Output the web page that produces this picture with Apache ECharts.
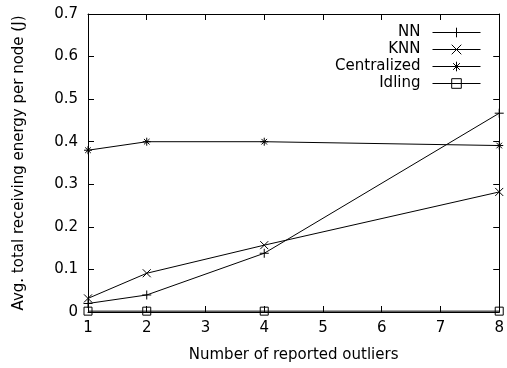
<!DOCTYPE html>
<html>
<head>
<meta charset="utf-8">
<script src="https://cdn.jsdelivr.net/npm/echarts@6/dist/echarts.min.js"></script>
<style>html,body{margin:0;padding:0;background:#fff}#c{width:507px;height:368px}</style>
</head>
<body>
<div id="c"></div>
<script>
const xValues = [1, 2, 4, 8];
const nnValues = [0.020, 0.040, 0.138, 0.467];
const knnValues = [0.032, 0.091, 0.157, 0.282];
const centralizedValues = [0.380, 0.400, 0.400, 0.391];
const idlingValues = [0.002, 0.002, 0.002, 0.002];
const seriesNames = ['NN', 'KNN', 'Centralized', 'Idling'];
const xTicks = [1, 2, 3, 4, 5, 6, 7, 8];
const yTicks = [0, 0.1, 0.2, 0.3, 0.4, 0.5, 0.6, 0.7];

const FONT = 'DejaVu Sans';
const symPlus = 'path://M5 0 L5 10 M0 5 L10 5';
const symCross = 'path://M0 0 L10 10 M10 0 L0 10';
const symStar = 'path://M5 0 L5 10 M0 5 L10 5 M1.5 1.5 L8.5 8.5 M8.5 1.5 L1.5 8.5';
const symSquare = 'path://M0 0 L10 0 L10 10 L0 10 Z';

function pairs(vals) { return xValues.map((x, i) => [x, vals[i]]); }

function mkSeries(name, vals, symbol, size) {
  return {
    name: name, type: 'line', data: pairs(vals),
    symbol: symbol, symbolSize: size, showSymbol: true,
    lineStyle: { color: '#000', width: 1 },
    itemStyle: { color: 'rgba(0,0,0,0)', borderColor: '#000', borderWidth: 1 },
    emphasis: { disabled: true },
    animation: false
  };
}

const axisCommon = {
  axisLine: { show: true, onZero: false, lineStyle: { color: '#000', width: 1 } },
  axisTick: { show: true, inside: true, length: 6, lineStyle: { color: '#000' } },
  splitLine: { show: false }
};

const chart = echarts.init(document.getElementById('c'));
chart.setOption({
  animation: false,
  backgroundColor: '#fff',
  grid: { left: 88, right: 6, top: 14, bottom: 56 },
  legend: {
    orient: 'vertical', right: 21, top: 19, align: 'right',
    itemWidth: 48, itemHeight: 12, itemGap: 0,
    lineStyle: { width: 1, color: '#000' },
    itemStyle: { borderWidth: 1, borderColor: '#000', color: 'rgba(0,0,0,0)' },
    textStyle: { fontFamily: FONT, fontSize: 15, color: '#000', lineHeight: 17, padding: [0, 7, 0, 0] },
    data: seriesNames
  },
  xAxis: [
    Object.assign({}, axisCommon, {
      type: 'value', min: 1, max: 8, interval: 1, position: 'bottom',
      axisLabel: { fontFamily: FONT, fontSize: 15, color: '#000', margin: 9, customValues: xTicks },
      name: 'Number of reported outliers', nameLocation: 'middle', nameGap: 36,
      nameTextStyle: { fontFamily: FONT, fontSize: 15, color: '#000' }
    }),
    Object.assign({}, axisCommon, {
      type: 'value', min: 1, max: 8, interval: 1, position: 'top',
      axisLabel: { show: false }
    })
  ],
  yAxis: [
    Object.assign({}, axisCommon, {
      type: 'value', min: 0, max: 0.7, interval: 0.1, position: 'left',
      axisLabel: { fontFamily: FONT, fontSize: 15, color: '#000', margin: 10,
        formatter: v => (Math.round(v * 10) / 10).toString() },
      name: 'Avg. total receiving energy per node (J)', nameLocation: 'middle', nameGap: 61,
      nameTextStyle: { fontFamily: FONT, fontSize: 15, color: '#000' }
    }),
    Object.assign({}, axisCommon, {
      type: 'value', min: 0, max: 0.7, interval: 0.1, position: 'right',
      axisLabel: { show: false }
    })
  ],
  series: [
    mkSeries(seriesNames[0], nnValues, symPlus, 9),
    mkSeries(seriesNames[1], knnValues, symCross, 8),
    mkSeries(seriesNames[2], centralizedValues, symStar, 8),
    mkSeries(seriesNames[3], idlingValues, symSquare, 8)
  ]
});
</script>
</body>
</html>
